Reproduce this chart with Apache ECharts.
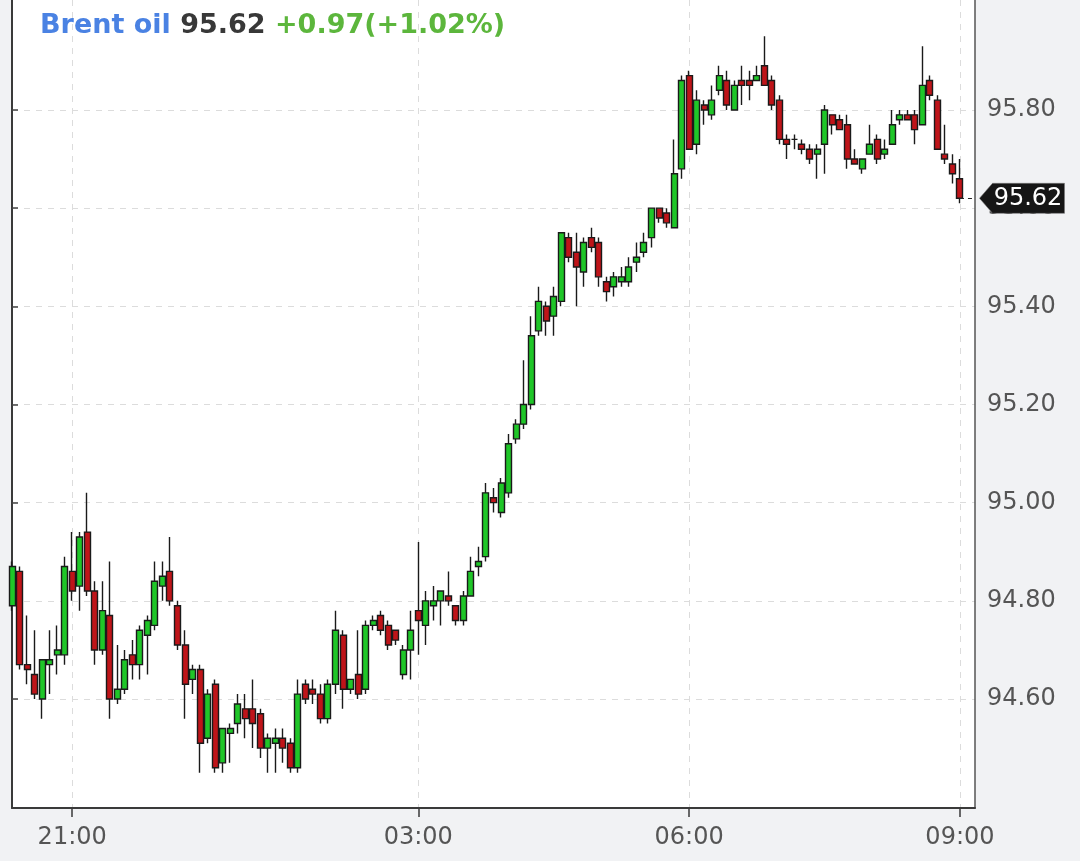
<!DOCTYPE html>
<html>
<head>
<meta charset="utf-8">
<script src="https://cdn.jsdelivr.net/npm/echarts@6/dist/echarts.min.js"></script>
<style>
html,body{margin:0;padding:0;background:#f1f2f4;}
#c{width:1080px;height:861px;}
</style>
</head>
<body>
<div id="c"></div>
<script>
// ---- data ----
const categories = [
  '20:20','20:25','20:30','20:35','20:40','20:45','20:50','20:55',
  '21:00','21:05','21:10','21:15','21:20','21:25','21:30','21:35','21:40','21:45','21:50','21:55',
  '22:00','22:05','22:10','22:15','22:20','22:25','22:30','22:35','22:40','22:45','22:50','22:55',
  '01:10','01:15','01:20','01:25','01:30','01:35','01:40','01:45','01:50','01:55',
  '02:00','02:05','02:10','02:15','02:20','02:25','02:30','02:35','02:40','02:45','02:50','02:55',
  '03:00','03:05','03:10','03:15','03:20','03:25','03:30','03:35','03:40','03:45','03:50','03:55',
  '04:00','04:05','04:10','04:15','04:20','04:25','04:30','04:35','04:40','04:45','04:50','04:55',
  '05:00','05:05','05:10','05:15','05:20','05:25','05:30','05:35','05:40','05:45','05:50','05:55',
  '06:00','06:05','06:10','06:15','06:20','06:25','06:30','06:35','06:40','06:45','06:50','06:55',
  '07:00','07:05','07:10','07:15','07:20','07:25','07:30','07:35','07:40','07:45','07:50','07:55',
  '08:00','08:05','08:10','08:15','08:20','08:25','08:30','08:35','08:40','08:45','08:50','08:55',
  '09:00','09:05','09:10'
];

// [open, close, low, high]
const ohlc = [
  [94.79,94.87,94.78,94.88],[94.86,94.67,94.66,94.87],[94.67,94.66,94.63,94.77],[94.65,94.61,94.60,94.74],
  [94.60,94.68,94.56,94.68],[94.67,94.68,94.61,94.74],[94.69,94.70,94.65,94.75],[94.69,94.87,94.67,94.89],
  [94.86,94.82,94.80,94.94],[94.83,94.93,94.78,94.94],[94.94,94.82,94.81,95.02],[94.82,94.70,94.67,94.84],
  [94.70,94.78,94.69,94.84],[94.77,94.60,94.56,94.88],[94.60,94.62,94.59,94.71],[94.62,94.68,94.61,94.70],
  [94.69,94.67,94.64,94.72],[94.67,94.74,94.64,94.75],[94.73,94.76,94.65,94.77],[94.75,94.84,94.74,94.88],
  [94.83,94.85,94.80,94.88],[94.86,94.80,94.79,94.93],[94.79,94.71,94.70,94.80],[94.71,94.63,94.56,94.74],
  [94.64,94.66,94.61,94.67],[94.66,94.51,94.45,94.67],[94.52,94.61,94.51,94.62],[94.63,94.46,94.45,94.64],
  [94.47,94.54,94.45,94.54],[94.53,94.54,94.47,94.55],[94.55,94.59,94.53,94.61],[94.58,94.56,94.52,94.61],
  [94.58,94.55,94.50,94.64],[94.57,94.50,94.48,94.58],[94.50,94.52,94.45,94.53],[94.51,94.52,94.45,94.54],
  [94.52,94.50,94.47,94.54],[94.51,94.46,94.45,94.52],[94.46,94.61,94.45,94.64],[94.63,94.60,94.59,94.64],
  [94.62,94.61,94.59,94.64],[94.61,94.56,94.55,94.63],[94.56,94.63,94.55,94.64],[94.63,94.74,94.61,94.78],
  [94.73,94.62,94.58,94.74],[94.62,94.64,94.61,94.64],[94.65,94.61,94.60,94.74],[94.62,94.75,94.61,94.76],
  [94.75,94.76,94.74,94.77],[94.77,94.74,94.73,94.78],[94.75,94.71,94.70,94.76],[94.74,94.72,94.71,94.74],
  [94.65,94.70,94.64,94.71],[94.70,94.74,94.64,94.78],[94.78,94.76,94.69,94.92],[94.75,94.80,94.71,94.82],
  [94.79,94.80,94.76,94.83],[94.80,94.82,94.75,94.82],[94.81,94.80,94.79,94.86],[94.79,94.76,94.75,94.79],
  [94.76,94.81,94.75,94.82],[94.81,94.86,94.81,94.89],[94.87,94.88,94.85,94.91],[94.89,95.02,94.88,95.04],
  [95.01,95.00,94.98,95.03],[94.98,95.04,94.97,95.05],[95.02,95.12,95.01,95.14],[95.13,95.16,95.12,95.17],
  [95.16,95.20,95.15,95.29],[95.20,95.34,95.19,95.38],[95.35,95.41,95.34,95.44],[95.40,95.37,95.34,95.41],
  [95.38,95.42,95.34,95.44],[95.41,95.55,95.40,95.55],[95.54,95.50,95.49,95.55],[95.51,95.48,95.40,95.55],
  [95.47,95.53,95.44,95.54],[95.54,95.52,95.51,95.56],[95.53,95.46,95.44,95.54],[95.45,95.43,95.41,95.46],
  [95.44,95.46,95.42,95.47],[95.45,95.46,95.44,95.48],[95.45,95.48,95.44,95.50],[95.49,95.50,95.47,95.53],
  [95.51,95.53,95.50,95.55],[95.54,95.60,95.52,95.60],[95.60,95.58,95.57,95.60],[95.59,95.57,95.56,95.60],
  [95.56,95.67,95.56,95.74],[95.68,95.86,95.66,95.87],[95.87,95.72,95.72,95.88],[95.73,95.82,95.71,95.84],
  [95.81,95.80,95.77,95.82],[95.79,95.82,95.78,95.85],[95.84,95.87,95.83,95.89],[95.86,95.81,95.80,95.88],
  [95.80,95.85,95.80,95.86],[95.86,95.85,95.81,95.89],[95.86,95.85,95.82,95.88],[95.86,95.87,95.86,95.89],
  [95.89,95.85,95.85,95.95],[95.86,95.81,95.80,95.87],[95.82,95.74,95.73,95.83],[95.74,95.73,95.70,95.75],
  [95.74,95.74,95.72,95.75],[95.73,95.72,95.71,95.74],[95.72,95.70,95.69,95.73],[95.71,95.72,95.66,95.73],
  [95.73,95.80,95.67,95.81],[95.79,95.77,95.75,95.79],[95.78,95.76,95.76,95.79],[95.77,95.70,95.68,95.79],
  [95.70,95.69,95.69,95.72],[95.68,95.70,95.67,95.70],[95.71,95.73,95.71,95.77],[95.74,95.70,95.69,95.75],
  [95.71,95.72,95.70,95.74],[95.73,95.77,95.73,95.80],[95.78,95.79,95.77,95.80],[95.79,95.78,95.78,95.80],
  [95.79,95.76,95.73,95.80],[95.77,95.85,95.77,95.93],[95.86,95.83,95.82,95.87],[95.82,95.72,95.72,95.83],
  [95.71,95.70,95.69,95.77],[95.69,95.67,95.65,95.71],[95.66,95.62,95.61,95.70]
];

const xTickLabels = ['21:00','03:00','06:00','09:00'];
const yTickValues = [94.6, 94.8, 95.0, 95.2, 95.4, 95.6, 95.8];
const lastPrice = 95.62;
const titleName = 'Brent oil';
const titlePrice = '95.62';
const titleChange = '+0.97(+1.02%)';

// ---- layout ----
const W = 1080, H = 861;
const G = {left: 12, right: 105, top: 0, bottom: 53};
const yMin = 94.378, yMax = 96.024;
const plotH = H - G.top - G.bottom;
const tickMin = yTickValues[0], tickMax = yTickValues[yTickValues.length - 1];
const tickStep = 0.2;
const gbTop = G.top + (yMax - tickMax) / (yMax - yMin) * plotH;
const gbH = (tickMax - tickMin) / (yMax - yMin) * plotH;

const FONT = 'DejaVu Sans';
const showIdx = (i, v) => xTickLabels.indexOf(v) >= 0;
const lastIdx = ohlc.length - 1;

const chart = echarts.init(document.getElementById('c'), null, {renderer: 'canvas', width: W, height: H});
chart.setOption({
  animation: false,
  backgroundColor: '#f1f2f4',
  title: {
    left: 40, top: 12, padding: 0,
    text: '{a|' + titleName + '} {b|' + titlePrice + '} {c|' + titleChange + '}',
    textStyle: {
      fontFamily: FONT, fontSize: 27, fontWeight: 'bold', color: '#333',
      rich: {
        a: {fontFamily: FONT, fontSize: 27, fontWeight: 'bold', color: '#4a82e3'},
        b: {fontFamily: FONT, fontSize: 27, fontWeight: 'bold', color: '#383838'},
        c: {fontFamily: FONT, fontSize: 27, fontWeight: 'bold', color: '#5cb63c'}
      }
    }
  },
  grid: [
    {left: G.left, right: G.right, top: G.top, bottom: G.bottom, show: true, backgroundColor: '#ffffff', borderWidth: 0},
    {left: G.left, right: G.right, top: gbTop, height: gbH, show: false}
  ],
  xAxis: [
    {
      gridIndex: 0, type: 'category', data: categories, boundaryGap: false,
      axisLine: {show: true, onZero: false, lineStyle: {color: '#3a3a3a', width: 2}},
      axisTick: {show: true, interval: showIdx, length: 9, lineStyle: {color: '#3a3a3a', width: 1.5}},
      axisLabel: {interval: showIdx, color: '#555', fontSize: 24, fontFamily: FONT, margin: 18},
      splitLine: {show: true, interval: showIdx, lineStyle: {color: '#dcdcdc', width: 1, type: [6, 6]}}
    },
    {gridIndex: 1, type: 'value', show: false, axisLine: {onZero: false}}
  ],
  yAxis: [
    {
      gridIndex: 0, type: 'value', position: 'right', min: yMin, max: yMax,
      axisLine: {show: true, onZero: false, lineStyle: {color: '#555', width: 1.5}},
      axisTick: {show: false}, axisLabel: {show: false}, splitLine: {show: false}
    },
    {
      gridIndex: 0, type: 'value', position: 'left', min: yMin, max: yMax,
      axisLine: {show: true, onZero: false, lineStyle: {color: '#3a3a3a', width: 2}},
      axisTick: {show: false}, axisLabel: {show: false}, splitLine: {show: false}
    },
    {
      gridIndex: 1, type: 'value', position: 'right', min: tickMin, max: tickMax, interval: tickStep,
      axisLine: {show: false},
      axisTick: {show: true, length: 6, lineStyle: {color: '#444', width: 1.5}},
      axisLabel: {color: '#555', fontSize: 24, fontFamily: FONT, margin: 12, formatter: v => v.toFixed(2)},
      splitLine: {show: true, lineStyle: {color: '#dcdcdc', width: 1, type: [6, 6]}}
    }
  ],
  series: [{
    type: 'candlestick',
    xAxisIndex: 0, yAxisIndex: 0,
    data: ohlc,
    barWidth: 6.5,
    itemStyle: {
      color: '#1fc628', color0: '#bf1419',
      borderColor: '#1a1a1a', borderColor0: '#1a1a1a', borderWidth: 1.4
    },
    markLine: {
      silent: true, symbol: 'none', animation: false,
      label: {show: false},
      lineStyle: {color: '#222', width: 1, type: [4, 4]},
      data: [[{coord: [categories[lastIdx], lastPrice]}, {coord: [categories[categories.length - 1], lastPrice]}]]
    },
    markPoint: {
      silent: true, animation: false,
      symbol: 'path://M0,15L13,0L85,0L85,30L13,30Z',
      symbolSize: [85, 30], symbolKeepAspect: false, symbolOffset: [47, 0],
      itemStyle: {color: '#161616', borderColor: '#777', borderWidth: 0.5},
      label: {show: true, position: 'inside', offset: [6, 0], color: '#fff', fontSize: 24, fontFamily: FONT,
        formatter: () => lastPrice.toFixed(2)},
      data: [{coord: [categories[categories.length - 1], lastPrice], value: lastPrice}]
    }
  }]
});
</script>
</body>
</html>
